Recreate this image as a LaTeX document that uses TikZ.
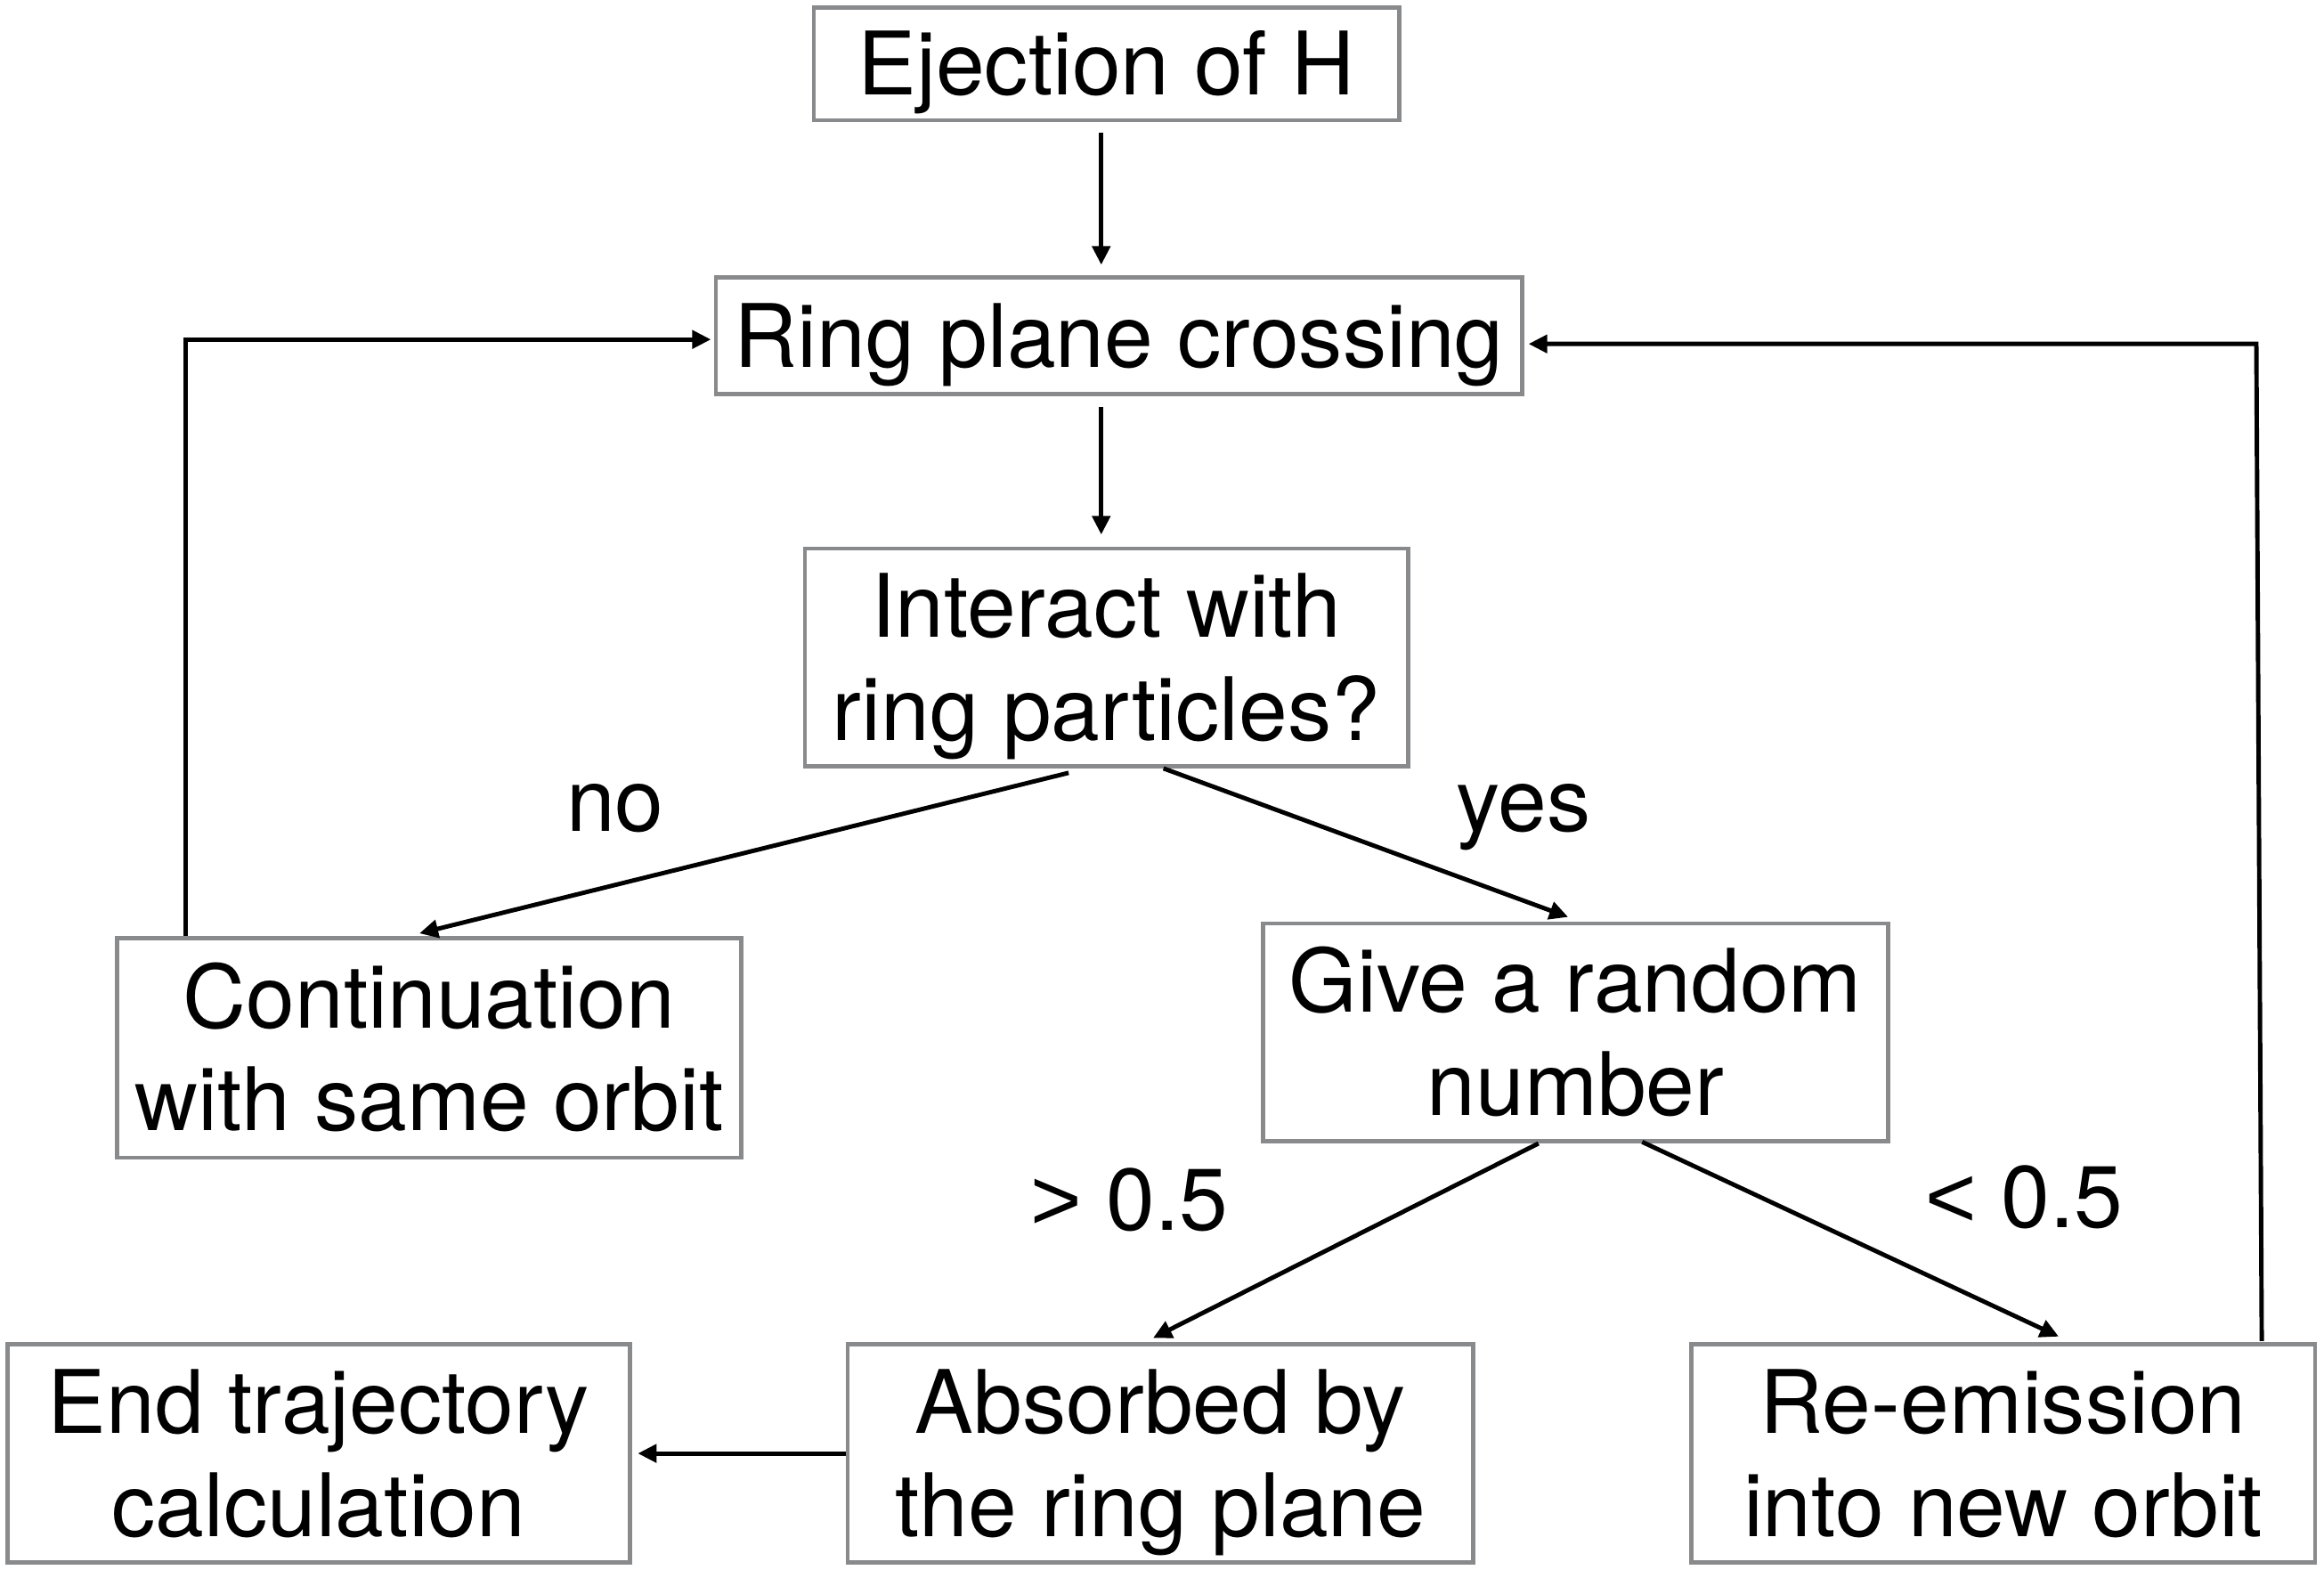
\documentclass[tikz,border=0pt]{standalone}
\usepackage{fontspec}
\setmainfont{TeX Gyre Heros}
\newfontfamily\symfont{Liberation Sans}
\usetikzlibrary{arrows.meta,calc}
\definecolor{boxgray}{HTML}{888A8C}
\begin{document}
\begin{tikzpicture}[x=0.016645cm,y=-0.016645cm,
  box/.style={draw=boxgray,line width=1.3pt,fill=white,inner sep=0pt,align=center,
    font=\fontsize{28}{33}\selectfont},
  oneline/.style={box,text height=26pt,text depth=6pt},
  twoline/.style={box,text height=59pt,text depth=6pt},
  lbl/.style={anchor=base,inner sep=0pt,font=\fontsize{28}{33}\selectfont},
  arr/.style={draw=black,line width=1.4pt,-{Triangle[length=0.21cm,width=0.2cm]}}]
\useasboundingbox (0,0) rectangle (1568,1059);
\node[oneline,minimum width=6.575cm,minimum height=1.265cm] (ej) at (746.5,43) {Ejection of H};
\node[oneline,minimum width=9.055cm,minimum height=1.315cm] (ring) at (755,226.5) {Ring plane crossing};
\node[twoline,minimum width=6.775cm,minimum height=2.447cm] (int) at (746.5,443.5) {Interact with\\ring particles?};
\node[twoline,minimum width=7.008cm,minimum height=2.463cm] (cont) at (289.5,707) {Continuation\\with same orbit};
\node[twoline,minimum width=7.024cm,minimum height=2.447cm] (give) at (1063,696.5) {Give a random\\number};
\node[twoline,minimum width=6.991cm,minimum height=2.447cm] (end) at (215,980.5) {End trajectory\\calculation};
\node[twoline,minimum width=7.024cm,minimum height=2.447cm] (abs) at (783,980.5) {Absorbed by\\the ring plane};
\node[twoline,minimum width=7.008cm,minimum height=2.447cm] (re) at (1351.5,980.5) {Re-emission\\into new orbit};

\node[lbl] (no) at (415,561) {no};
\node[lbl] (yes) at (1028,561) {yes};
\node[lbl] (gt) at (762,830) {{\symfont >} 0.5};
\node[lbl] (lt) at (1366,828) {{\symfont <} 0.5};

\draw[arr] ($(ej.south)+(-3.5,7)$) -- ($(ring.north)+(-12,-7)$);
\draw[arr] ($(ring.south)+(-12,7)$) -- ($(int.north)+(-3.5,-8)$);
\draw[arr] ($(int.south)+(-25.5,3)$) -- ($(cont.north)+(-6.5,-2)$);
\draw[arr] ($(int.south)+(38.5,0)$) -- ($(give.north)+(-5,-3)$);
\draw[arr] ($(give.south)+(-25,0)$) -- ($(abs.north)+(-5,-3)$);
\draw[arr] ($(give.south)+(45,-1)$) -- ($(re.north)+(37.5,-4)$);
\draw[arr] (abs.west) -- ($(end.east)+(4,0)$);
\draw[arr] ($(cont.north)+(-164.5,0)$) |- ($(ring.west)+(-2,2.5)$);
\coordinate (rc) at ($(ring.east)+(494,5.5)$);
\draw[arr] ($(re.north)+(174.5,-1)$) -- (rc) -- ($(ring.east)+(3,5.5)$);
\end{tikzpicture}
\end{document}
